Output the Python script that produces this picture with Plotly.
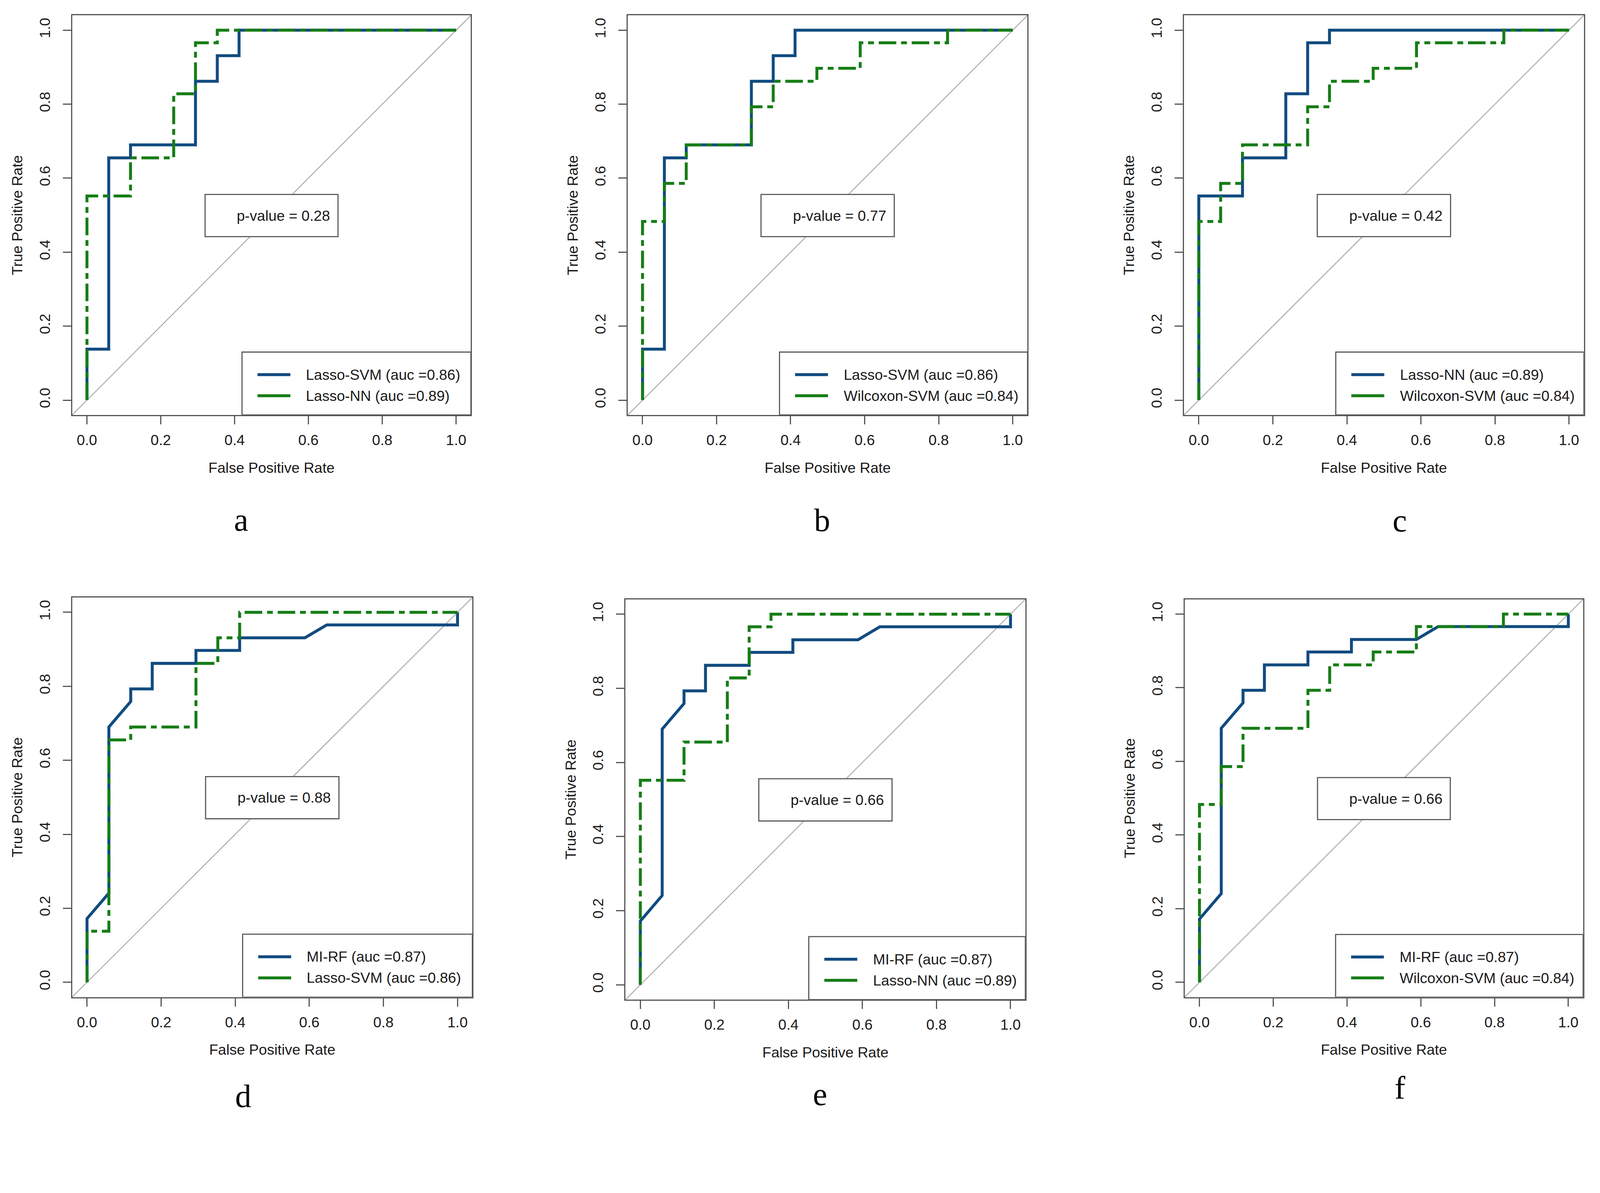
import plotly.graph_objects as go

# ---------------- data ----------------
# ROC step curves: false positive rate (x) and true positive rate (y)
lasso_svm_fpr = [0.0, 0.0, 0.059, 0.059, 0.118, 0.118, 0.294, 0.294, 0.353, 0.353, 0.412, 0.412, 1.0]
lasso_svm_tpr = [0.0, 0.138, 0.138, 0.655, 0.655, 0.690, 0.690, 0.862, 0.862, 0.931, 0.931, 1.0, 1.0]

lasso_nn_fpr = [0.0, 0.0, 0.118, 0.118, 0.235, 0.235, 0.294, 0.294, 0.353, 0.353, 1.0]
lasso_nn_tpr = [0.0, 0.552, 0.552, 0.655, 0.655, 0.828, 0.828, 0.966, 0.966, 1.0, 1.0]

wilcoxon_svm_fpr = [0.0, 0.0, 0.059, 0.059, 0.118, 0.118, 0.294, 0.294, 0.353, 0.353,
                    0.471, 0.471, 0.588, 0.588, 0.824, 0.824, 1.0]
wilcoxon_svm_tpr = [0.0, 0.483, 0.483, 0.586, 0.586, 0.690, 0.690, 0.793, 0.793, 0.862,
                    0.862, 0.897, 0.897, 0.966, 0.966, 1.0, 1.0]

mi_rf_fpr = [0.0, 0.0, 0.059, 0.059, 0.118, 0.118, 0.176, 0.176, 0.294, 0.294,
             0.412, 0.412, 0.588, 0.647, 1.0, 1.0]
mi_rf_tpr = [0.0, 0.172, 0.241, 0.690, 0.759, 0.793, 0.793, 0.862, 0.862, 0.897,
             0.897, 0.931, 0.931, 0.966, 0.966, 1.0]

model_names = ["Lasso-SVM", "Lasso-NN", "Wilcoxon-SVM", "MI-RF"]
model_auc = [0.86, 0.89, 0.84, 0.87]
model_fpr = [lasso_svm_fpr, lasso_nn_fpr, wilcoxon_svm_fpr, mi_rf_fpr]
model_tpr = [lasso_svm_tpr, lasso_nn_tpr, wilcoxon_svm_tpr, mi_rf_tpr]

# panel comparisons
panel_labels = ["a", "b", "c", "d", "e", "f"]
panel_blue = ["Lasso-SVM", "Lasso-SVM", "Lasso-NN", "MI-RF", "MI-RF", "MI-RF"]
panel_green = ["Lasso-NN", "Wilcoxon-SVM", "Wilcoxon-SVM", "Lasso-SVM", "Lasso-NN", "Wilcoxon-SVM"]
panel_pvalues = ["0.28", "0.77", "0.42", "0.88", "0.66", "0.66"]

tick_values = [0.0, 0.2, 0.4, 0.6, 0.8, 1.0]
x_title = "False Positive Rate"
y_title = "True Positive Rate"

# ---------------- styling / layout ----------------
# The page is photographed with a small zoom factor and an 8px body margin;
# design sizes below are in photographed pixels and converted to CSS pixels.
S = 1.066
BODY = 8
Wc = 4363 / S - 2 * BODY
Hc = 3053 / S - 2 * BODY


def px(v):
    return v / S


def fx(P):
    return (P / S - BODY) / Wc


def fy(P):
    return 1 - (P / S - BODY) / Hc


BLUE = "#114B80"
GREEN = "#167D16"
DIAG = "#A8A8A8"
FRAME = "#555555"
TEXT = "#1A1A1A"
SANS = "Liberation Sans, Arial, sans-serif"
SERIF = "Liberation Serif, Times New Roman, serif"
FS = px(40)
LW = px(8)
AX_RANGE = [-0.04, 1.04]

# plot-box extents in picture pixels (left, right, top, bottom)
boxes_px = [
    (197, 1285, 42, 1132),
    (1713, 2804, 42, 1132),
    (3231, 4322, 42, 1132),
    (197, 1289, 1630, 2720),
    (1707, 2798, 1635, 2727),
    (3233, 4320, 1635, 2720),
]
label_px = [(658, 1418), (2243, 1419), (3820, 1420), (664, 2990), (2238, 2985), (3820, 2968)]
legend_left = [0.42, 0.37, 0.37, 0.42, 0.455, 0.369]
legend_top = 0.13
legend_rows = [0.069, 0.012]
pbox = (0.32, 0.68, 0.442, 0.556)
ptext_x = 0.404

fig = go.Figure()
shapes = []
annotations = []
layout_axes = {}

for i in range(6):
    k = "" if i == 0 else str(i + 1)
    xa, ya = "x" + k, "y" + k
    left, right, top, bottom = boxes_px[i]
    xdom = [fx(left), fx(right)]
    ydom = [fy(bottom), fy(top)]

    common = dict(
        range=AX_RANGE, tickvals=tick_values, tickformat=".1f",
        ticks="outside", ticklen=round(px(22)), tickwidth=px(3), tickcolor=FRAME,
        showline=True, linecolor=FRAME, linewidth=px(3), mirror=True,
        showgrid=False, zeroline=False,
        tickfont=dict(family=SANS, size=FS, color=TEXT),
    )
    layout_axes["xaxis" + k] = dict(common, domain=xdom, anchor=ya,
                                    ticklabelstandoff=round(px(9)),
                                    title=dict(text=x_title, standoff=round(px(41)),
                                               font=dict(family=SANS, size=FS, color=TEXT)))
    layout_axes["yaxis" + k] = dict(common, domain=ydom, anchor=xa, tickangle=-90,
                                    ticklabelstandoff=round(px(19)),
                                    title=dict(text=y_title, standoff=round(px(27)),
                                               font=dict(family=SANS, size=FS, color=TEXT)))

    # chance diagonal
    shapes.append(dict(type="line", xref=xa + " domain", yref=ya + " domain",
                       x0=0, y0=0, x1=1, y1=1, layer="below",
                       line=dict(color=DIAG, width=px(2.5))))

    # curves: blue solid first, green dot-dash on top
    dashpat = f"{px(48):.1f}px,{px(13):.1f}px,{px(16):.1f}px,{px(13):.1f}px"
    for model, color, dash in [(panel_blue[i], BLUE, "solid"),
                               (panel_green[i], GREEN, dashpat)]:
        m = model_names.index(model)
        fig.add_trace(go.Scatter(
            x=model_fpr[m], y=model_tpr[m], mode="lines",
            name=f"{model} (auc ={model_auc[m]:.2f})",
            line=dict(color=color, width=LW, dash=dash),
            xaxis=xa, yaxis=ya, showlegend=False, hoverinfo="skip"))

    # p-value box
    shapes.append(dict(type="rect", xref=xa, yref=ya,
                       x0=pbox[0], x1=pbox[1], y0=pbox[2], y1=pbox[3],
                       line=dict(color=FRAME, width=px(3)), fillcolor="white", layer="above"))
    annotations.append(dict(xref=xa, yref=ya, x=ptext_x, y=(pbox[2] + pbox[3]) / 2,
                            xanchor="left", yanchor="middle", showarrow=False,
                            text=f"p-value = {panel_pvalues[i]}",
                            font=dict(family=SANS, size=FS, color=TEXT)))

    # legend box (bottom right)
    L = legend_left[i]
    shapes.append(dict(type="rect", xref=xa, yref=ya,
                       x0=L, x1=AX_RANGE[1], y0=AX_RANGE[0], y1=legend_top,
                       line=dict(color=FRAME, width=px(3)), fillcolor="white", layer="above"))
    for r, (model, color) in enumerate([(panel_blue[i], BLUE), (panel_green[i], GREEN)]):
        m = model_names.index(model)
        yr = legend_rows[r]
        shapes.append(dict(type="line", xref=xa, yref=ya,
                           x0=L + 0.042, x1=L + 0.131, y0=yr, y1=yr,
                           line=dict(color=color, width=LW), layer="above"))
        annotations.append(dict(xref=xa, yref=ya, x=L + 0.171, y=yr,
                                xanchor="left", yanchor="middle", showarrow=False,
                                text=f"{model} (auc ={model_auc[m]:.2f})",
                                font=dict(family=SANS, size=FS, color=TEXT)))

    # panel letter
    lx, ly = label_px[i]
    annotations.append(dict(xref="paper", yref="paper", x=fx(lx), y=fy(ly),
                            xanchor="center", yanchor="middle", showarrow=False,
                            text=panel_labels[i],
                            font=dict(family=SERIF, size=px(88), color="black")))

fig.update_layout(
    width=round(Wc), height=round(Hc),
    margin=dict(l=0, r=0, t=0, b=0),
    paper_bgcolor="white", plot_bgcolor="white",
    showlegend=False,
    shapes=shapes, annotations=annotations,
    **layout_axes,
)

fig.write_html("out.html")
